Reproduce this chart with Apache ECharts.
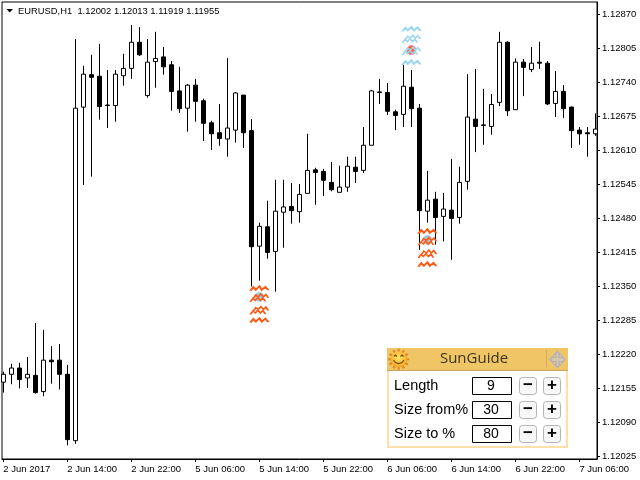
<!DOCTYPE html>
<html><head><meta charset="utf-8">
<style>html,body{margin:0;padding:0;background:#fff}#c{width:640px;height:480px}</style>
<script src="https://cdn.jsdelivr.net/npm/echarts@6/dist/echarts.min.js"></script>
</head><body><div id="c"></div>
<script>
// Candle values in points: price = 1 + points / 100000
const opens=[12167,12182,12194,12175,12180,12149,12209,12209,12182,12055,12693,12755,12752,12697,12696,12753,12767,12817,12715,12780,12789,12774,12724,12691,12735,12705,12663,12644,12632,12649,12716,12648,12427,12464,12417,12492,12503,12493,12528,12573,12570,12549,12530,12540,12578,12572,12620,12722,12721,12684,12679,12731,12691,12494,12517,12484,12496,12482,12551,12670,12659,12656,12702,12817,12688,12779,12765,12779,12777,12700,12723,12693,12649,12644,12642];
const closes=[12182,12194,12172,12182,12147,12209,12206,12182,12057,12691,12756,12750,12694,12696,12756,12767,12817,12793,12779,12786,12770,12723,12690,12735,12704,12662,12642,12633,12653,12720,12644,12426,12465,12415,12494,12502,12495,12526,12572,12568,12553,12535,12540,12580,12570,12620,12724,12721,12685,12677,12733,12690,12495,12515,12482,12498,12480,12549,12674,12656,12658,12698,12817,12686,12779,12769,12777,12777,12699,12723,12690,12648,12642,12642,12651];
const lows=[12147,12163,12155,12156,12145,12140,12164,12153,12046,12049,12544,12560,12669,12653,12665,12734,12747,12791,12711,12730,12755,12686,12682,12646,12665,12628,12611,12619,12598,12625,12615,12350,12361,12403,12340,12424,12470,12472,12528,12506,12523,12532,12530,12531,12548,12567,12620,12699,12678,12649,12655,12655,12420,12472,12430,12436,12401,12470,12535,12607,12621,12640,12695,12676,12688,12714,12760,12766,12697,12674,12672,12615,12621,12598,12638];
const highs=[12187,12202,12204,12215,12280,12267,12236,12240,12200,12823,12772,12793,12814,12764,12764,12795,12850,12846,12823,12837,12808,12781,12770,12737,12747,12709,12667,12699,12787,12722,12716,12670,12472,12514,12554,12554,12548,12546,12642,12577,12575,12588,12581,12598,12598,12655,12726,12747,12739,12688,12776,12764,12699,12571,12531,12529,12594,12579,12756,12766,12728,12718,12837,12819,12786,12785,12808,12818,12781,12762,12735,12694,12655,12655,12681];
const priceTicks=[12025,12090,12155,12220,12285,12350,12415,12480,12545,12610,12675,12740,12805,12870];
const timeTickBars=[0,8,16,24,32,40,48,56,64,72];
const timeTickLabels=['2 Jun 2017','2 Jun 14:00','2 Jun 22:00','5 Jun 06:00','5 Jun 14:00','5 Jun 22:00','6 Jun 06:00','6 Jun 14:00','6 Jun 22:00','7 Jun 06:00'];
const blueRows=[[51,12842,0],[51,12823,1],[51,12800,1],[51,12778,0]];
const orangeRows=[[32,12346,0],[32,12328,1],[32,12304,1],[32,12285,0],[53,12455,0],[53,12436,1],[53,12412,1],[53,12392,0]];
const blueDots=[[32,12330],[53,12439]];
const orangeDots=[[51,12802]];
const panelRows=[['Length','9'],['Size from%','30'],['Size to %','80']];

const P=p=>1+p/100000;
const candles=opens.map((o,i)=>[i,P(o),P(closes[i]),P(lows[i]),P(highs[i])]);
const single='path://M0 4.5L3 .8L5.5 3.5L9 0L11.5 3.5L15 .5L18 4';
const dbl='path://M0 8L2.5 4.5L5 6.5L7.5 3.5L10 6.5L12.5 4L15 7.5M3 4.5L5.5 1L8 3L10.5 0L13 3L15.5 .5L18 4';
const zig=(rows,col)=>({type:'scatter',silent:true,z:5,clip:false,
  data:rows.map(r=>({value:[r[0],P(r[1])],symbol:r[2]?dbl:single,symbolSize:r[2]?[18,8]:[18,4.5]})),
  itemStyle:{color:'none',borderColor:col,borderWidth:1.3,opacity:1}});
const dot=(d,col,edge,size)=>({type:'scatter',silent:true,z:4,clip:false,symbol:'circle',symbolSize:size,
  data:d.map(v=>[v[0],P(v[1])]),itemStyle:{color:col,borderColor:edge,borderWidth:1,opacity:.9}});

// control panel
const T=(x,y,text,font,fill,align)=>({type:'text',x,y,silent:true,style:{text,font,fill:fill||'#000',align:align||'left',verticalAlign:'middle'}});
const R=(x,y,w,h,fill,stroke,r)=>({type:'rect',silent:true,shape:{x,y,width:w,height:h,r:r||0},style:{fill,stroke:stroke||null,lineWidth:1}});
const g=[];
g.push({type:'polygon',silent:true,shape:{points:[[6.5,9],[13,9],[9.75,12.5]]},style:{fill:'#000'}});
g.push(T(18,11,'EURUSD,H1  1.12002 1.12013 1.11919 1.11955','9.4px "Liberation Sans"','#000'));
g.push(R(387,348,181,100,'#FFDFA8'));
g.push(R(389,371,177,75,'#fff'));
g.push(R(387,348,181,22,'#EFC566'));
g.push(R(387,370,181,1,'#C9A35A'));
g.push(R(546,350,1,18,'#D2AE68'));
g.push(T(474,359,'SunGuide','15px "Open Sans"','#3a3320','center'));
g.push({type:'polygon',silent:true,shape:{points:[[557.5,351.5],[554.5,354.5],[556,354.5],[556,357.5],[553,357.5],[553,356],[550,359.5],[553,363],[553,361.5],[556,361.5],[556,364.5],[554.5,364.5],[557.5,367.5],[560.5,364.5],[559,364.5],[559,361.5],[562,361.5],[562,363],[565,359.5],[562,356],[562,357.5],[559,357.5],[559,354.5],[560.5,354.5]]},style:{fill:'#D5C6A6',stroke:'#AEB0C4',lineWidth:1.2}});
// sun
for(let a=0;a<12;a++){const t=a*Math.PI/6;
  g.push({type:'line',silent:true,shape:{x1:398.7+7*Math.cos(t),y1:359.3+7*Math.sin(t),x2:398.7+10.5*Math.cos(t),y2:359.3+10.5*Math.sin(t)},style:{stroke:'#E8871E',lineWidth:2.2}});}
g.push({type:'circle',silent:true,shape:{cx:398.7,cy:359.3,r:8},style:{fill:new echarts.graphic.RadialGradient(.5,.4,.6,[{offset:0,color:'#FFE566'},{offset:1,color:'#F5A623'}])}});
g.push({type:'polyline',silent:true,shape:{points:[[393.5,360],[395.5,362.5],[398.7,363.5],[402,362.5],[404,360]]},style:{fill:'none',stroke:'#6B4A12',lineWidth:1.2}});
g.push({type:'polyline',silent:true,shape:{points:[[394,356.5],[395.5,355],[397,356.5]]},style:{fill:'none',stroke:'#6B4A12',lineWidth:1.1}});
g.push({type:'polyline',silent:true,shape:{points:[[400.5,356.5],[402,355],[403.5,356.5]]},style:{fill:'none',stroke:'#6B4A12',lineWidth:1.1}});
panelRows.forEach((row,i)=>{
  const cy=386+24*i;
  g.push(T(394,cy,row[0],'14.5px "Liberation Sans"','#000'));
  g.push(R(472.5,cy-8.5,39,17,'#fff','#000'));
  g.push(T(491,cy,row[1],'14px "Liberation Sans"','#000','center'));
  g.push(R(519.5,cy-8.5,17,17,'#F7F7F7','#B5B5B5',3));
  g.push(R(543.5,cy-8.5,17,17,'#F7F7F7','#B5B5B5',3));
  g.push(T(528,cy-.5,'\u2212','bold 17px "Liberation Sans"','#000','center'));
  g.push(T(552,cy-.5,'+','bold 17px "Liberation Sans"','#000','center'));
});

const tickFont={color:'#000',fontFamily:'Liberation Sans',fontSize:9.5};
const chart=echarts.init(document.getElementById('c'),null,{renderer:'canvas'});
chart.setOption({
  animation:false,backgroundColor:'#fff',
  grid:{left:2,right:43,top:2,bottom:21,show:true,borderColor:'#000',borderWidth:1,backgroundColor:'#fff'},
  xAxis:{type:'value',min:-0.1625,max:74.2,splitLine:{show:false},
    axisLine:{show:true,onZero:false,lineStyle:{color:'#000'}},
    axisTick:{show:true,length:3,customValues:timeTickBars,lineStyle:{color:'#000'}},
    axisLabel:{...tickFont,align:'left',margin:5,customValues:timeTickBars,showMinLabel:true,showMaxLabel:true,hideOverlap:false,
      formatter:v=>timeTickLabels[timeTickBars.indexOf(Math.round(v))]||''}},
  yAxis:{type:'value',position:'right',min:P(12020),max:P(12894),scale:true,splitLine:{show:false},
    axisLine:{show:true,onZero:false,lineStyle:{color:'#000'}},
    axisTick:{show:true,length:3,customValues:priceTicks.map(P),lineStyle:{color:'#000'}},
    axisLabel:{...tickFont,margin:5,align:'left',customValues:priceTicks.map(P),showMinLabel:true,showMaxLabel:true,hideOverlap:false,formatter:v=>v.toFixed(5)}},
  series:[
    {type:'candlestick',barWidth:5,data:candles,encode:{x:0,y:[1,2,3,4]},silent:true,clip:true,
     itemStyle:{color:'#fff',color0:'#000',borderColor:'#000',borderColor0:'#000',borderWidth:1}},
    dot(orangeDots,'#FF4A12','#F080B0',9),
    dot(blueDots,'#8FC6E0','#A8CDE0',9),
    zig(blueRows,'#9AD6F2'),
    zig(orangeRows,'#FF5A14')
  ],
  graphic:{elements:g}
});
</script></body></html>
